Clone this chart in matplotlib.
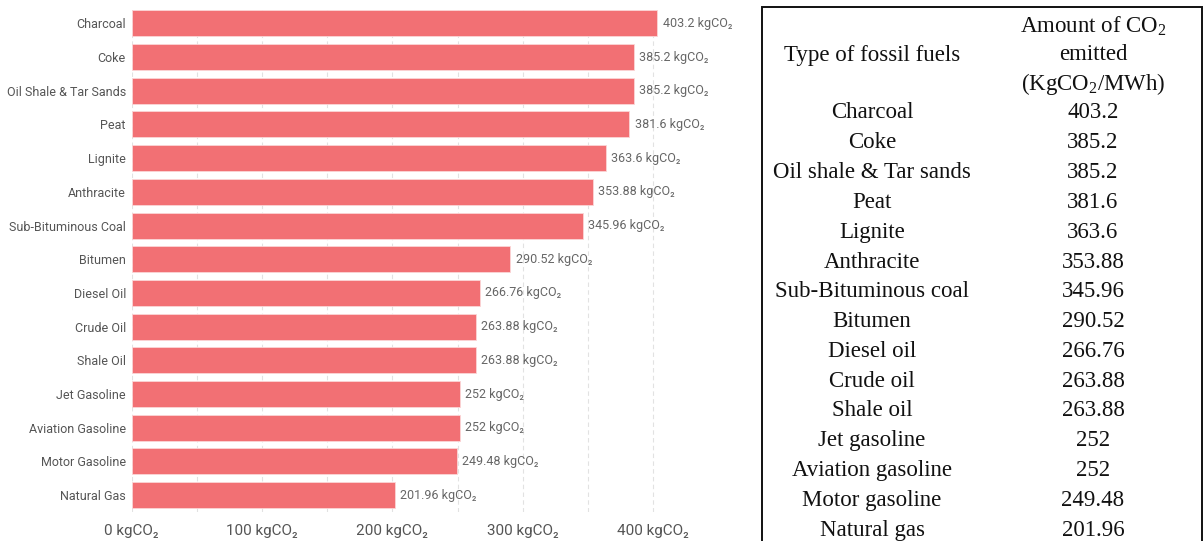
import matplotlib
matplotlib.use("Agg")
import matplotlib.pyplot as plt
from matplotlib.patches import Rectangle

# CO2 emitted per fuel (kgCO2 / MWh)
fuels = ["Charcoal", "Coke", "Oil Shale & Tar Sands", "Peat", "Lignite", "Anthracite",
         "Sub-Bituminous Coal", "Bitumen", "Diesel Oil", "Crude Oil", "Shale Oil",
         "Jet Gasoline", "Aviation Gasoline", "Motor Gasoline", "Natural Gas"]
values = [403.2, 385.2, 385.2, 381.6, 363.6, 353.88, 345.96, 290.52, 266.76,
          263.88, 263.88, 252, 252, 249.48, 201.96]
value_text = ["403.2", "385.2", "385.2", "381.6", "363.6", "353.88", "345.96", "290.52",
              "266.76", "263.88", "263.88", "252", "252", "249.48", "201.96"]
table_names = ["Charcoal", "Coke", "Oil shale & Tar sands", "Peat", "Lignite", "Anthracite",
               "Sub-Bituminous coal", "Bitumen", "Diesel oil", "Crude oil", "Shale oil",
               "Jet gasoline", "Aviation gasoline", "Motor gasoline", "Natural gas"]
xticks = [0, 100, 200, 300, 400]

plt.rcParams['font.family'] = ['Roboto', 'DejaVu Sans']
plt.rcParams['mathtext.fontset'] = 'custom'
plt.rcParams['mathtext.rm'] = 'Liberation Serif'

W, H = 1204, 541
fig = plt.figure(figsize=(W / 100, H / 100), dpi=100)

# bar chart on the left
ax_l, ax_r, ax_top, ax_bot = 131.5, 705.5, 6.5, 512
ax = fig.add_axes([ax_l / W, 1 - ax_bot / H, (ax_r - ax_l) / W, (ax_bot - ax_top) / H])
ypos = list(range(len(fuels)))
bars = ax.barh(ypos, values, height=0.77, color='#f27074', edgecolor='#fbd5d6',
               linewidth=0.6, zorder=2)
for y, v, t in zip(ypos, values, value_text):
    ax.text(v + 4, y, t + " kgCO\u2082", va='center', ha='left', fontsize=9,
            color='#666666', zorder=3)

ax.set_ylim(len(fuels) - 0.5, -0.5)
ax.set_xlim(0, 440)
ax.set_yticks(ypos)
ax.set_yticklabels(fuels, fontsize=9, color='#555555')
ax.set_xticks(xticks)
ax.set_xticklabels([f"{t} kgCO\u2082" for t in xticks], fontsize=11, color='#555555')
ax.set_xticks(range(0, 450, 50), minor=True)
ax.tick_params(axis='both', length=0, which='both')
ax.tick_params(axis='y', pad=4)
ax.tick_params(axis='x', pad=9)
ax.grid(axis='x', which='both', color='#e2e2e2', linestyle=(0, (4, 3)), linewidth=0.8, zorder=0)
ax.set_axisbelow(True)
for s in ax.spines.values():
    s.set_visible(False)

# reference table on the right
fig.patches.append(Rectangle((762 / W, -0.05), (1202 - 762) / W, 1.05 - 7 / H,
                             transform=fig.transFigure, fill=False,
                             edgecolor='#111111', linewidth=1.4))
c1, c2 = 872 / W, 1093 / W
tkw = dict(family='Liberation Serif', fontsize=16.5, color='#111111', ha='center', va='center')
fig.text(c1, 1 - 55 / H, "Type of fossil fuels", **tkw)
fig.text(c2, 1 - 26 / H, r"Amount of CO$_2$", **tkw)
fig.text(c2, 1 - 55 / H, "emitted", **tkw)
fig.text(c2, 1 - 84 / H, r"(KgCO$_2$/MWh)", **tkw)
row0, row_step = 113, 29.8
for i, (name, t) in enumerate(zip(table_names, value_text)):
    yy = 1 - (row0 + i * row_step) / H
    fig.text(c1, yy, name, **tkw)
    fig.text(c2, yy, t, **tkw)

fig.savefig("out.png", dpi=100)
